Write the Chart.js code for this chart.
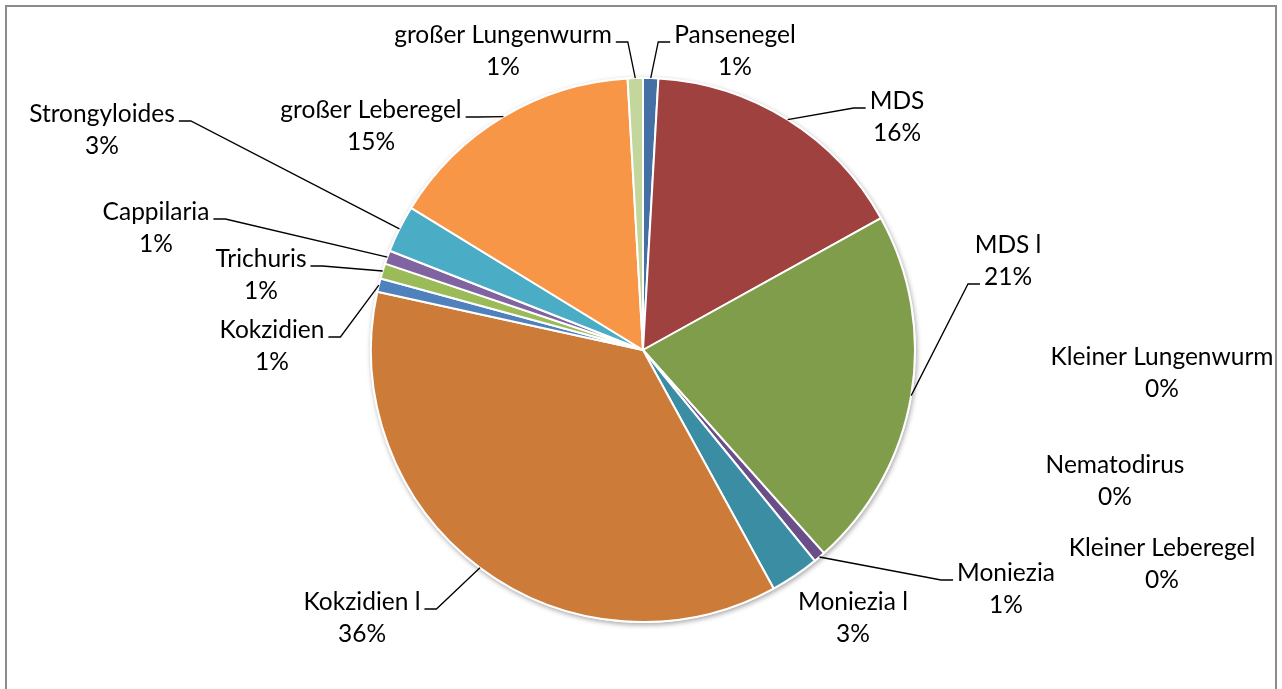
<!DOCTYPE html>
<html>
<head>
<meta charset="utf-8">
<script src="https://cdn.jsdelivr.net/npm/chart.js@4.4.1/dist/chart.umd.min.js"></script>
<style>
    body { margin: 0; background: #fff; overflow: hidden; }
    #wrap { position: relative; width: 1282px; height: 689px; }
    #frame { position: absolute; left: 5px; top: 5px; width: 1272px; height: 760px; border: 2px solid #8c8c8c; box-sizing: border-box; pointer-events: none; }
</style>
</head>
<body>
<div id="wrap">
    <canvas id="chart"></canvas>
    <div id="frame"></div>
</div>
<script>
// Données (en %)
const categories = ['Pansenegel', 'MDS', 'MDS l', 'Kleiner Lungenwurm', 'Nematodirus', 'Kleiner Leberegel',
    'Moniezia', 'Moniezia l', 'Kokzidien l', 'Kokzidien', 'Trichuris', 'Cappilaria', 'Strongyloides',
    'großer Leberegel', 'großer Lungenwurm'];
const shares = [0.9, 16.0, 21.4, 0, 0, 0, 0.7, 2.9, 36.3, 0.8, 0.9, 0.8, 2.8, 15.3, 0.9];

// couleurs des parts
const sliceColors = ['#4470A6', '#9E413F', '#7F9D4A', '#6A4E8A', '#3A8DA3', '#CD7B38',
    '#6A4E8A', '#3A8DA3', '#CD7B38', '#4F81BD', '#9BBB59', '#8064A2', '#4BACC6', '#F79646', '#C3D69B'];

// position des étiquettes (centre de la 1re ligne, relatif au centre du camembert)
const labelOffsets = [[92, -315], [254, -249], [365, -105], [519, 7], [472, 115], [519, 198],
    [363, 223], [210, 252], [-281, 252], [-371, -20], [-382, -91], [-487, -138], [-541, -236],
    [-272, -240], [-140, -315]];
// trait de rappel ou non
const showLeader = [true, true, true, false, false, false, true, false, true, true, true, true, true, true, true];

const FONT = '24.5px Lato';
const LINE_GAP = 32;

const total = shares.reduce((a, b) => a + b, 0);
const percentText = shares.map(v => Math.round(v / total * 100) + '%');

// ombre légère autour du camembert
const shadowPlugin = {
    id: 'pieShadow',
    beforeDatasetsDraw(chart) {
        const arc = chart.getDatasetMeta(0).data[0];
        const ctx = chart.ctx;
        ctx.save();
        ctx.shadowColor = 'rgba(0,0,0,0.35)';
        ctx.shadowBlur = 5;
        ctx.shadowOffsetX = 1;
        ctx.shadowOffsetY = 2;
        ctx.fillStyle = '#fff';
        ctx.beginPath();
        ctx.arc(arc.x, arc.y, arc.outerRadius + 1, 0, Math.PI * 2);
        ctx.fill();
        ctx.restore();
    }
};

// étiquettes + traits de rappel
const labelPlugin = {
    id: 'pieLabels',
    afterDatasetsDraw(chart) {
        const ctx = chart.ctx;
        const arcs = chart.getDatasetMeta(0).data;
        ctx.save();
        ctx.font = FONT;
        ctx.fillStyle = '#000';
        ctx.textAlign = 'center';
        ctx.textBaseline = 'middle';
        arcs.forEach((arc, i) => {
            const cx = arc.x + labelOffsets[i][0];
            const cy = arc.y + labelOffsets[i][1];
            const lines = [categories[i], percentText[i]];
            lines.forEach((t, k) => ctx.fillText(t, cx, cy + k * LINE_GAP));

            if (!showLeader[i] || shares[i] === 0) return;
            const mid = (arc.startAngle + arc.endAngle) / 2;
            const px = arc.x + Math.cos(mid) * arc.outerRadius;
            const py = arc.y + Math.sin(mid) * arc.outerRadius;
            // quelle ligne de texte on rattache (2e ligne si la part est bien plus bas)
            const k = py > cy + LINE_GAP + 90 ? 1 : 0;
            const w = ctx.measureText(lines[k]).width;
            const ly = cy + k * LINE_GAP + 7;
            const dir = px > cx ? 1 : -1;
            const edge = cx + dir * w / 2;
            ctx.strokeStyle = '#000';
            ctx.lineWidth = 1.3;
            ctx.beginPath();
            ctx.moveTo(px, py);
            ctx.lineTo(edge + dir * 16, ly);
            ctx.lineTo(edge + dir * 4, ly);
            ctx.stroke();
        });
        ctx.restore();
    }
};

const chart = new Chart(document.getElementById('chart'), {
    type: 'pie',
    data: {
        labels: categories,
        datasets: [{
            data: shares,
            backgroundColor: sliceColors,
            borderColor: '#fff',
            borderWidth: 2
        }]
    },
    options: {
        responsive: true,
        maintainAspectRatio: false,
        animation: false,
        layout: {padding: {top: 77, bottom: 66, left: 4, right: 0}},
        plugins: {
            legend: {display: false},
            tooltip: {enabled: false}
        }
    },
    plugins: [shadowPlugin, labelPlugin]
});
</script>
</body>
</html>
